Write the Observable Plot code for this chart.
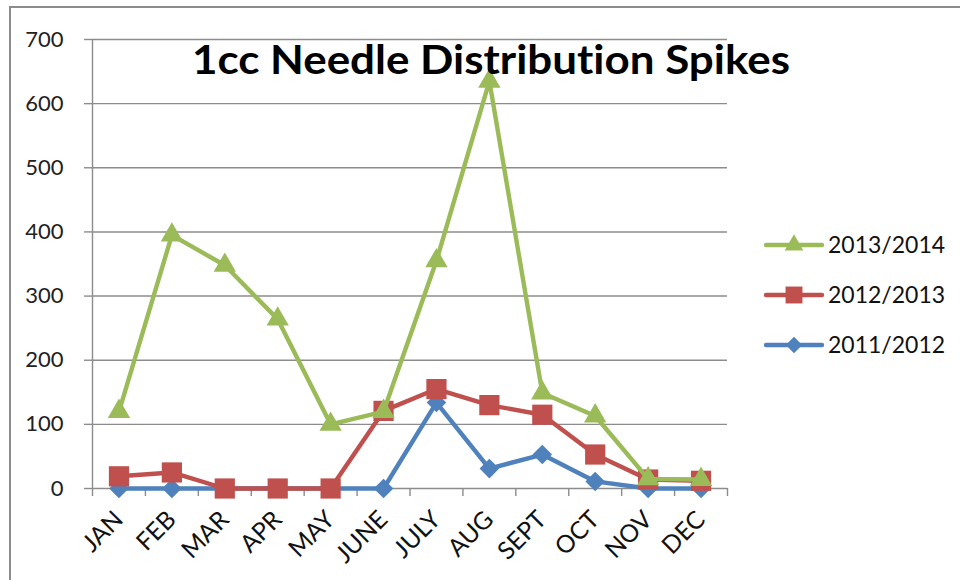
<!DOCTYPE html>
<html><head><meta charset="utf-8">
<script src="https://cdn.jsdelivr.net/npm/d3@7"></script>
<script src="https://cdn.jsdelivr.net/npm/@observablehq/plot@0.6"></script>
<style>
body{margin:0;background:#fff;font-family:Lato,sans-serif}
#wrap{position:relative;width:960px;height:580px;overflow:hidden;background:#fff}
#frame{position:absolute;left:9px;top:6px;width:1000px;height:640px;border:2px solid #8c8c8c;box-sizing:border-box}
#chart{position:absolute;left:0;top:0}
#overlay{position:absolute;left:0;top:0;pointer-events:none}
text{font-variant-ligatures:none}
</style>
</head><body>
<div id="wrap"><div id="frame"></div><div id="chart"></div><svg id="overlay" width="960" height="580"></svg></div>
<script>
const months = ["JAN","FEB","MAR","APR","MAY","JUNE","JULY","AUG","SEPT","OCT","NOV","DEC"];
const v2011 = [0,0,0,0,0,0,134,31,53,11,0,0];
const v2012 = [19,25,0,0,0,121,155,130,115,53,14,12];
const v2013 = [120,395,348,264,100,120,355,635,149,113,15,14];
const seriesNames = ["2011/2012","2012/2013","2013/2014"];
const seriesValues = [v2011, v2012, v2013];
const colors = ["#4F81BD","#C0504D","#9BBB59"];
const symbols = ["diamond2","square","triangle"];
const markerR = [8.8, 11.4, 8.3];
const yTicks = [0,100,200,300,400,500,600,700];
const titleText = "1cc Needle Distribution Spikes";

const gray = "#8c8c8c";
const idx = d3.range(months.length);
const boundaries = d3.range(months.length + 1).map(i => i - 0.5);

const marks = [
  Plot.gridY(yTicks, {stroke: gray, strokeOpacity: 1, strokeWidth: 1.4}),
  Plot.ruleX([boundaries[0]], {stroke: gray, strokeWidth: 1.4}),
  Plot.axisY(yTicks, {tickSize: 8, tickPadding: 21, stroke: gray, strokeWidth: 1.4, fontSize: 22, fill: "#222", label: null}),
  Plot.axisX(boundaries, {tickSize: 8, tickFormat: () => "", stroke: gray, strokeWidth: 1.4, label: null}),
  Plot.axisX(idx, {tickSize: 0, tickPadding: 27, tickRotate: -45, tickFormat: i => months[i], fontSize: 24.5, fill: "#111", label: null})
];
seriesNames.forEach((name, s) => {
  const data = seriesValues[s].map((v, i) => ({i, v}));
  marks.push(Plot.line(data, {x: "i", y: "v", stroke: colors[s], strokeWidth: 4.4, strokeLinejoin: "round"}));
  marks.push(Plot.dot(data, {x: "i", y: "v", fill: colors[s], symbol: symbols[s], r: markerR[s], stroke: "none"}));
});

const chart = Plot.plot({
  width: 960, height: 580,
  marginLeft: 92, marginRight: 233, marginTop: 39, marginBottom: 92,
  x: {type: "linear", domain: [boundaries[0], boundaries[boundaries.length - 1]], label: null},
  y: {domain: [0, 700], label: null},
  style: {fontFamily: "Lato, sans-serif", background: "transparent", color: "#111"},
  marks
});
document.getElementById("chart").appendChild(chart);

// Title and legend overlay
const svg = d3.select("#overlay");
svg.append("text").attr("x", 491).attr("y", 74).attr("text-anchor", "middle")
  .attr("font-family", "Lato, sans-serif").attr("font-weight", "bold").attr("font-size", 40)
  .attr("textLength", 598).attr("lengthAdjust", "spacingAndGlyphs")
  .attr("fill", "#000").text(titleText);

const legendOrder = [2, 1, 0];
legendOrder.forEach((s, k) => {
  const y = 245 + k * 50;
  const g = svg.append("g").attr("transform", `translate(0,${y})`);
  g.append("line").attr("x1", 766).attr("x2", 822).attr("y1", 0).attr("y2", 0)
    .attr("stroke", colors[s]).attr("stroke-width", 4.4).attr("stroke-linecap", "round");
  const sym = {diamond2: d3.symbolDiamond2, square: d3.symbolSquare, triangle: d3.symbolTriangle}[symbols[s]];
  g.append("path").attr("transform", "translate(794,0)")
    .attr("d", d3.symbol(sym, Math.PI * markerR[s] * markerR[s] * 0.7)()).attr("fill", colors[s]);
  g.append("text").attr("x", 828).attr("y", 0).attr("dy", "0.36em")
    .attr("font-family", "Lato, sans-serif").attr("font-size", 23).attr("fill", "#111")
    .text(seriesNames[s]);
});
</script>
</body></html>
